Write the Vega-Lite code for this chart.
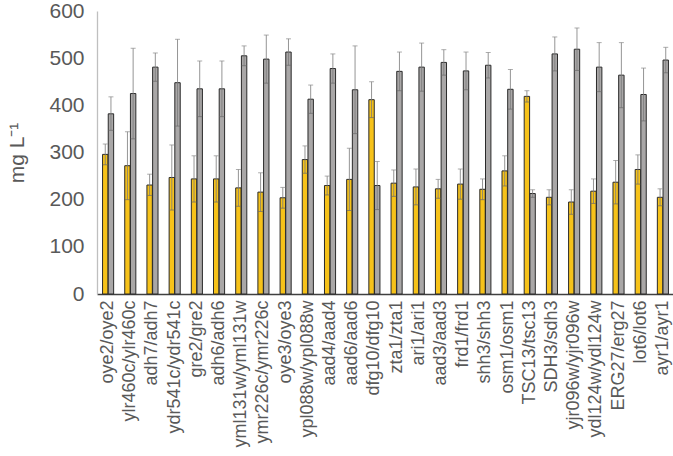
{
  "$schema": "https://vega.github.io/schema/vega-lite/v6.json",
  "width": 577,
  "height": 283,
  "autosize": {"type": "none"},
  "padding": {"left": 97, "top": 11, "right": 0, "bottom": 162},
  "background": "white",
  "config": {"view": {"stroke": null}, "font": "Liberation Sans"},
  "data": {"values": [
    {"gene":"oye2/oye2","s":"a","v":296,"lo":274,"hi":318},
    {"gene":"oye2/oye2","s":"b","v":382,"lo":347,"hi":418},
    {"gene":"ylr460c/ylr460c","s":"a","v":272,"lo":200,"hi":344},
    {"gene":"ylr460c/ylr460c","s":"b","v":425,"lo":329,"hi":521},
    {"gene":"adh7/adh7","s":"a","v":231,"lo":209,"hi":254},
    {"gene":"adh7/adh7","s":"b","v":481,"lo":451,"hi":511},
    {"gene":"ydr541c/ydr541c","s":"a","v":247,"lo":178,"hi":316},
    {"gene":"ydr541c/ydr541c","s":"b","v":448,"lo":356,"hi":540},
    {"gene":"gre2/gre2","s":"a","v":244,"lo":195,"hi":293},
    {"gene":"gre2/gre2","s":"b","v":435,"lo":376,"hi":494},
    {"gene":"adh6/adh6","s":"a","v":244,"lo":195,"hi":293},
    {"gene":"adh6/adh6","s":"b","v":435,"lo":376,"hi":494},
    {"gene":"yml131w/yml131w","s":"a","v":225,"lo":186,"hi":264},
    {"gene":"yml131w/yml131w","s":"b","v":505,"lo":484,"hi":526},
    {"gene":"ymr226c/ymr226c","s":"a","v":216,"lo":175,"hi":257},
    {"gene":"ymr226c/ymr226c","s":"b","v":498,"lo":447,"hi":549},
    {"gene":"oye3/oye3","s":"a","v":204,"lo":182,"hi":226},
    {"gene":"oye3/oye3","s":"b","v":513,"lo":485,"hi":541},
    {"gene":"ypl088w/ypl088w","s":"a","v":285,"lo":256,"hi":314},
    {"gene":"ypl088w/ypl088w","s":"b","v":413,"lo":383,"hi":443},
    {"gene":"aad4/aad4","s":"a","v":230,"lo":210,"hi":250},
    {"gene":"aad4/aad4","s":"b","v":478,"lo":447,"hi":509},
    {"gene":"aad6/aad6","s":"a","v":243,"lo":177,"hi":309},
    {"gene":"aad6/aad6","s":"b","v":433,"lo":340,"hi":526},
    {"gene":"dfg10/dfg10","s":"a","v":412,"lo":374,"hi":450},
    {"gene":"dfg10/dfg10","s":"b","v":230,"lo":179,"hi":281},
    {"gene":"zta1/zta1","s":"a","v":235,"lo":207,"hi":263},
    {"gene":"zta1/zta1","s":"b","v":472,"lo":431,"hi":513},
    {"gene":"ari1/ari1","s":"a","v":227,"lo":189,"hi":265},
    {"gene":"ari1/ari1","s":"b","v":481,"lo":430,"hi":532},
    {"gene":"aad3/aad3","s":"a","v":223,"lo":203,"hi":243},
    {"gene":"aad3/aad3","s":"b","v":491,"lo":464,"hi":518},
    {"gene":"frd1/frd1","s":"a","v":233,"lo":201,"hi":265},
    {"gene":"frd1/frd1","s":"b","v":473,"lo":433,"hi":513},
    {"gene":"shh3/shh3","s":"a","v":222,"lo":200,"hi":244},
    {"gene":"shh3/shh3","s":"b","v":485,"lo":458,"hi":512},
    {"gene":"osm1/osm1","s":"a","v":261,"lo":229,"hi":293},
    {"gene":"osm1/osm1","s":"b","v":434,"lo":392,"hi":476},
    {"gene":"TSC13/tsc13","s":"a","v":419,"lo":407,"hi":431},
    {"gene":"TSC13/tsc13","s":"b","v":213,"lo":205,"hi":221},
    {"gene":"SDH3/sdh3","s":"a","v":205,"lo":189,"hi":221},
    {"gene":"SDH3/sdh3","s":"b","v":509,"lo":473,"hi":545},
    {"gene":"yjr096w/yjr096w","s":"a","v":195,"lo":169,"hi":221},
    {"gene":"yjr096w/yjr096w","s":"b","v":519,"lo":474,"hi":564},
    {"gene":"ydl124w/ydl124w","s":"a","v":218,"lo":192,"hi":244},
    {"gene":"ydl124w/ydl124w","s":"b","v":481,"lo":429,"hi":533},
    {"gene":"ERG27/erg27","s":"a","v":237,"lo":191,"hi":283},
    {"gene":"ERG27/erg27","s":"b","v":464,"lo":395,"hi":533},
    {"gene":"lot6/lot6","s":"a","v":264,"lo":233,"hi":295},
    {"gene":"lot6/lot6","s":"b","v":423,"lo":367,"hi":479},
    {"gene":"ayr1/ayr1","s":"a","v":205,"lo":187,"hi":223},
    {"gene":"ayr1/ayr1","s":"b","v":496,"lo":469,"hi":523}
  ]},
  "encoding": {
    "x": {
      "field": "gene", "type": "nominal", "sort": null,
      "scale": {"paddingInner": 0.5, "paddingOuter": 0.25},
      "axis": {
        "title": null, "labelAngle": -90, "labelAlign": "right", "labelBaseline": "middle",
        "labelFontSize": 18, "labelColor": "#595959", "labelPadding": 6,
        "ticks": false, "domainColor": "#404040", "domainWidth": 1.3, "labelLimit": 300,
        "labelOverlap": false, "labelBound": false
      }
    },
    "xOffset": {"field": "s", "type": "nominal", "scale": {"paddingInner": 0.05}}
  },
  "layer": [
    {
      "mark": {"type": "bar", "stroke": "#2a2a2a", "strokeWidth": 1},
      "encoding": {
        "y": {
          "field": "v", "type": "quantitative",
          "scale": {"domain": [0, 600], "nice": false},
          "axis": {
            "title": "mg L\u207b\u00b9", "titleFontSize": 21, "titleFontWeight": "normal", "titleColor": "#595959",
            "titlePadding": 21,
            "labelFontSize": 21, "labelColor": "#595959", "labelPadding": 13,
            "values": [0,100,200,300,400,500,600],
            "labelOverlap": false, "labelBound": false, "labelFlush": false,
            "ticks": false, "grid": false, "domainColor": "#bfbfbf", "domainWidth": 1.3
          }
        },
        "color": {
          "field": "s", "type": "nominal",
          "scale": {"domain": ["a", "b"], "range": ["#f6c21a", "#a9a7a7"]},
          "legend": null
        }
      }
    },
    {
      "mark": {"type": "rule", "color": "#7a7a7a", "strokeWidth": 1, "opacity": 0.8},
      "encoding": {
        "y": {"field": "lo", "type": "quantitative"},
        "y2": {"field": "hi"}
      }
    },
    {
      "mark": {"type": "tick", "color": "#8a8a8a", "size": 5, "thickness": 1, "orient": "horizontal"},
      "encoding": {"y": {"field": "hi", "type": "quantitative"}}
    },
    {
      "mark": {"type": "tick", "color": "#6a6a6a", "size": 5, "thickness": 1, "orient": "horizontal"},
      "encoding": {"y": {"field": "lo", "type": "quantitative"}}
    }
  ]
}
